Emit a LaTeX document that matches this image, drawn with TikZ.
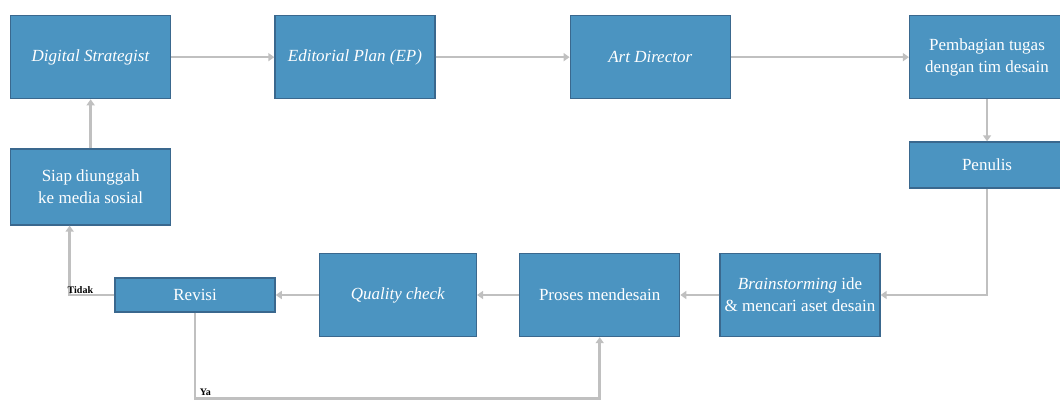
\documentclass[tikz,border=0pt]{standalone}
\usepackage{fontspec}
\setmainfont{Liberation Serif}[
  UprightFont={Liberation Serif},
  ItalicFont={Liberation Serif Italic},
  BoldFont={Liberation Serif Bold}]
\usepackage{xcolor}
\usepackage{tikz}
\usetikzlibrary{arrows.meta, positioning}
\definecolor{boxblue}{RGB}{75,148,193}
\definecolor{boxedge}{RGB}{58,104,142}
\definecolor{linegray}{RGB}{192,192,192}

\begin{document}
\begin{tikzpicture}[
      node distance=40pt and 40pt,
      every node/.style={draw=boxedge, fill=boxblue, line width=1.3pt, text=white, inner sep=2pt,
        minimum width=160pt, minimum height=83pt, font=\fontsize{17}{22}\selectfont, align=center},
      lbl/.style={draw=none, fill=none, text=black, minimum width=0pt, minimum height=0pt,
        inner sep=1pt, font=\fontsize{10}{11}\selectfont\bfseries},
      arrow/.style={-{Triangle[length=6pt, width=8pt]}, line width=2.6pt, draw=linegray}
    ]
        \useasboundingbox (0,0) rectangle (1060pt,-401pt);

        \node (ds) [anchor=north west] at (10pt,-15pt) {\textit{Digital Strategist}};
        \node (ep) [right=103pt of ds] {\textit{Editorial Plan (EP)}};
        \node (ad) [right=134pt of ep] {\textit{Art Director}};
        \node (tugas) [right=178pt of ad, minimum width=155pt] {Pembagian tugas\\dengan tim desain};
        \node (penulis) [below=42pt of tugas, minimum width=155pt, minimum height=46pt] {Penulis};
        \node (brain) at (800pt,-295pt) {\textit{Brainstorming} ide\\\& mencari aset desain};
        \node (desain) [left=39pt of brain] {Proses mendesain};
        \node (qc) [left=42pt of desain, minimum width=157pt] {\textit{Quality check}};
        \node (revisi) [left=43pt of qc, minimum height=34pt] {Revisi};
        \node (siap) [below=49pt of ds, minimum height=76pt] {Siap diunggah\\ke media sosial};

        \coordinate (ya) at ([yshift=-86pt]revisi.south);

        \draw[arrow] (ds) -- (ep);
        \draw[arrow] (ep) -- (ad);
        \draw[arrow] (ad) -- (tugas);
        \draw[arrow] (tugas) -- (penulis);
        \draw[arrow] (penulis.south) |- (brain.east);
        \draw[arrow] (brain) -- (desain);
        \draw[arrow] (desain) -- (qc);
        \draw[arrow] (qc) -- (revisi);
        \draw[arrow] (revisi.west) -| node[lbl, pos=0.38, above] {Tidak} ([xshift=-21pt]siap.south);
        \draw[arrow] (revisi.south) -- (ya) -| (desain.south);
        \node[lbl, anchor=south west] at ([xshift=3pt,yshift=1pt]ya) {Ya};
        \draw[arrow] (siap) -- (ds);
    \end{tikzpicture}
\end{document}
